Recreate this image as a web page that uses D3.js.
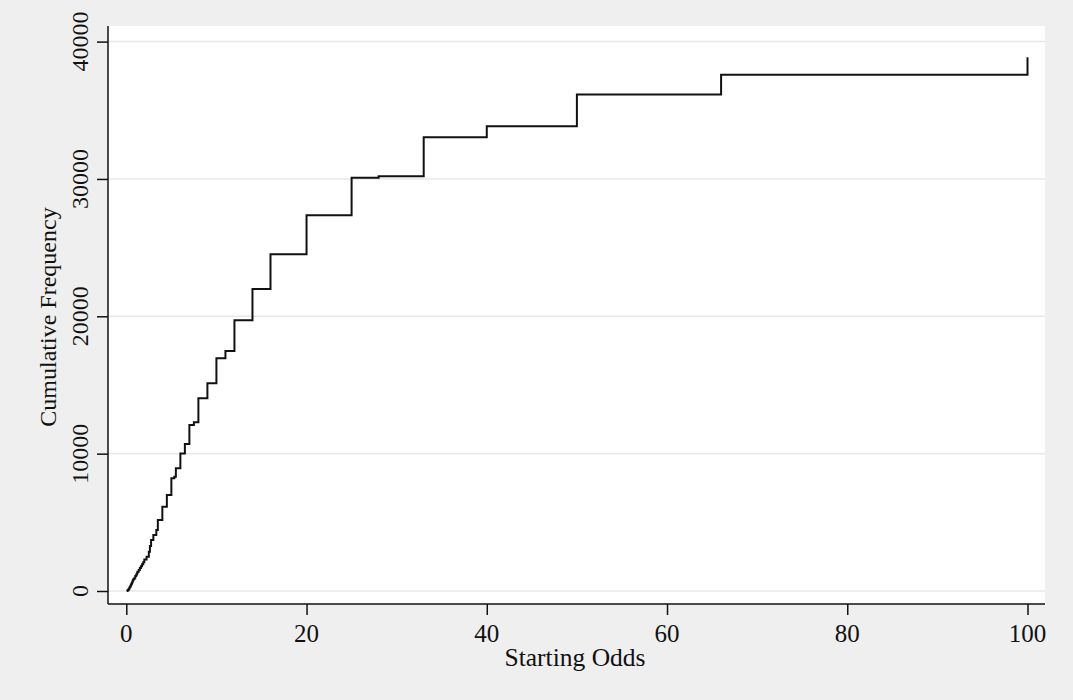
<!DOCTYPE html>
<html>
<head>
<meta charset="utf-8">
<script src="https://cdnjs.cloudflare.com/ajax/libs/d3/7.8.5/d3.min.js"></script>
<style>
  body { margin: 0; background: #efefef; }
  svg text { font-family: "Liberation Serif", "Times New Roman", serif; fill: #111; }
</style>
</head>
<body>
<script>
// starting odds (x) and cumulative frequency reached at that odds value (y)
var odds = [0.05, 0.11, 0.2, 0.25, 0.33, 0.4, 0.5, 0.57, 0.62, 0.67, 0.73, 0.8, 0.91, 1.0,
    1.1, 1.2, 1.25, 1.38, 1.5, 1.62, 1.75, 1.88, 2.0, 2.25, 2.5, 2.62, 2.75, 3.0, 3.33, 3.5,
    4.0, 4.5, 5.0, 5.33, 5.5, 6.0, 6.5, 7.0, 7.5, 8.0, 9.0, 10, 11, 12, 14, 16, 20, 25, 28,
    33, 40, 50, 66, 100, 100];
var cumFreq = [0, 30, 80, 130, 230, 320, 450, 530, 600, 700, 780, 880, 960, 1100,
    1200, 1320, 1400, 1520, 1680, 1800, 1950, 2100, 2300, 2500, 2860, 3280, 3710, 4080, 4440, 5170,
    6140, 6990, 8200, 8320, 8930, 10020, 10700, 12090, 12280, 14030, 15120, 16940, 17470, 19710, 21990, 24510, 27350, 30090, 30200,
    33030, 33830, 36140, 37590, 37590, 38860];
var xTicks = [0, 20, 40, 60, 80, 100];
var yTicks = [0, 10000, 20000, 30000, 40000];

var W = 1073, H = 700;
var plot = {left: 108, right: 1045, top: 26, bottom: 604};

var svg = d3.select("body").append("svg")
    .attr("width", W)
    .attr("height", H);

svg.append("rect").attr("width", W).attr("height", H).attr("fill", "#efefef");
svg.append("rect")
    .attr("x", plot.left).attr("y", plot.top)
    .attr("width", plot.right - plot.left).attr("height", plot.bottom - plot.top)
    .attr("fill", "#ffffff");

var x = d3.scaleLinear().domain([0, 100]).range([126.3, 1027.5]);
var y = d3.scaleLinear().domain([0, 40000]).range([591, 41.6]);

// gridlines
svg.append("g").selectAll("line")
    .data(yTicks)
    .join("line")
    .attr("x1", plot.left).attr("x2", plot.right)
    .attr("y1", d => y(d)).attr("y2", d => y(d))
    .attr("stroke", "#e8e8e8")
    .attr("stroke-width", 1.5);

// y axis
var yAxis = svg.append("g").attr("transform", "translate(" + plot.left + ",0)")
    .call(d3.axisLeft(y).tickValues(yTicks).tickSize(11).tickFormat(""));
yAxis.select(".domain").remove();
yAxis.selectAll("line").attr("stroke", "#111").attr("stroke-width", 1.5);
svg.append("line")
    .attr("x1", plot.left).attr("x2", plot.left)
    .attr("y1", plot.top).attr("y2", plot.bottom)
    .attr("stroke", "#111").attr("stroke-width", 1.5);
svg.append("g").selectAll("text")
    .data(yTicks)
    .join("text")
    .attr("transform", d => "translate(88," + y(d) + ") rotate(-90)")
    .attr("text-anchor", "middle")
    .style("font-size", "24px")
    .text(d => d);

// x axis
var xAxis = svg.append("g").attr("transform", "translate(0," + plot.bottom + ")")
    .call(d3.axisBottom(x).tickValues(xTicks).tickSizeInner(11).tickSizeOuter(0).tickFormat(""));
xAxis.select(".domain").remove();
xAxis.selectAll("line").attr("stroke", "#111").attr("stroke-width", 1.5);
svg.append("line")
    .attr("x1", plot.left).attr("x2", plot.right)
    .attr("y1", plot.bottom).attr("y2", plot.bottom)
    .attr("stroke", "#111").attr("stroke-width", 1.5);
svg.append("g").selectAll("text")
    .data(xTicks)
    .join("text")
    .attr("x", d => x(d))
    .attr("y", 642)
    .attr("text-anchor", "middle")
    .style("font-size", "25px")
    .text(d => d);

// axis titles
svg.append("text")
    .attr("x", 575).attr("y", 666)
    .attr("text-anchor", "middle")
    .style("font-size", "25.5px")
    .text("Starting Odds");
svg.append("text")
    .attr("transform", "translate(56,317) rotate(-90)")
    .attr("text-anchor", "middle")
    .style("font-size", "24px")
    .text("Cumulative Frequency");

// step line
var pts = odds.map((o, i) => [o, cumFreq[i]]);
var line = d3.line()
    .x(d => x(d[0]))
    .y(d => y(d[1]))
    .curve(d3.curveStepAfter);
svg.append("path")
    .datum(pts)
    .attr("d", line)
    .attr("fill", "none")
    .attr("stroke", "#111")
    .attr("stroke-width", 2);
</script>
</body>
</html>
